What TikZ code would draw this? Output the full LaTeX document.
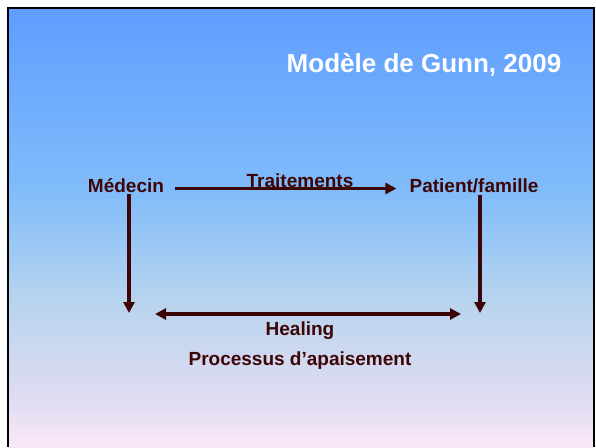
\documentclass[tikz,border=0pt]{standalone}
\usepackage{fontspec}
\setmainfont{Liberation Sans}
\usepackage[svgnames, dvipsnames]{xcolor}
\usetikzlibrary{calc, arrows.meta}
\definecolor{slidetop}{HTML}{5F9DFF}
\definecolor{slideA}{HTML}{80BCFA}
\definecolor{slideB}{HTML}{B8D4EE}
\definecolor{slideC}{HTML}{E0DCF2}
\definecolor{slidebot}{HTML}{FAE8F8}
\definecolor{brun}{HTML}{3D0505}
\pgfdeclareverticalshading{fond}{100bp}{color(0bp)=(slidebot); color(25bp)=(slidebot);
  color(30.4bp)=(slideC); color(41.7bp)=(slideB); color(54.3bp)=(slideA);
  color(75bp)=(slidetop); color(100bp)=(slidetop)}
\tikzset{>={Triangle[length=11pt,width=11pt]}}
\tikzset{lbl/.style={text=brun,font=\bfseries\fontsize{19}{22}\selectfont,inner sep=0pt,anchor=base}}
\tikzset{fleche/.style={draw=brun,line width=3.2pt}}

\begin{document}
\begin{tikzpicture}[x=1pt,y=-1pt]
\useasboundingbox (0,0) rectangle (596,447);
\fill[white] (0,0) rectangle (596,447);
\shade[shading=fond] (8,8) rectangle (594,447);
\draw[line width=2.5pt] (8,447)--(8,8)--(594,8)--(594,447);
\node[text=white,font=\bfseries\fontsize{26}{30}\selectfont,inner sep=0pt,anchor=base] (titre) at (424,72) {Modèle de Gunn, 2009};
\node[lbl] (med) at (126,192) {Médecin};
\node[lbl] (pat) at (474,192) {Patient/famille};
\node[lbl] (trait) at (300,187) {Traitements};
\node[lbl] (heal) at (300,335) {Healing};
\node[lbl] (proc) at (300,365) {Processus d’apaisement};
\coordinate (basg) at (129,313);
\coordinate (basd) at (480,313);
\coordinate (g) at (155,314);
\coordinate (d) at (461,314);
\draw[fleche,->] ($(med.base east)+(11,-3.5)$) -- ($(pat.base west)+(-13,-3.5)$);
\draw[fleche,->] (med.south -| basg) ++(0,2) -- (basg);
\draw[fleche,->] (pat.south -| basd) ++(0,2) -- (basd);
\draw[fleche,<->] (g) -- (d);
\end{tikzpicture}
\end{document}
